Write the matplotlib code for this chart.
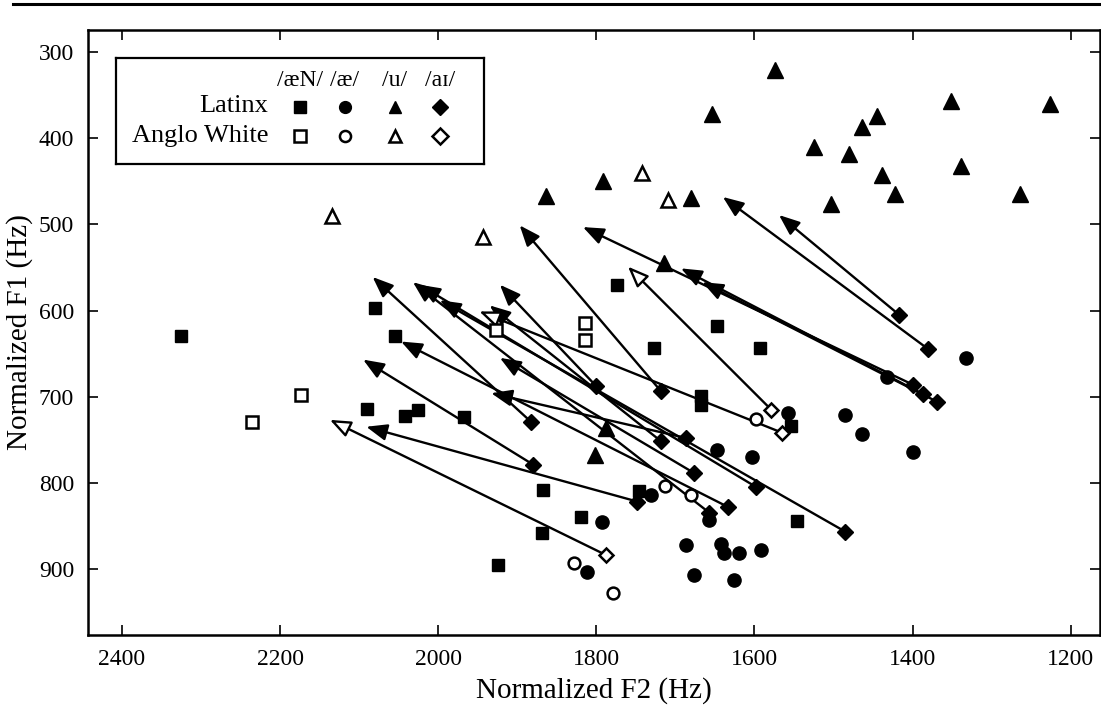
# F1/F2 vowel plot: /aeN/, /ae/, /u/ tokens and /ai/ trajectories (nucleus -> glide)

import numpy as np
import matplotlib.pyplot as plt
from matplotlib.lines import Line2D

plt.rcParams['font.family'] = ['Liberation Serif', 'DejaVu Serif']

# /aeN/
lat_aen_f2 = [2325, 2080, 2055, 2090, 2042, 2026, 1968, 1867, 1819, 1869, 1924, 1746, 1668, 1668, 1546, 1774, 1647, 1727, 1593, 1554]
lat_aen_f1 = [630, 597, 629, 714, 722, 715, 724, 808, 840, 858, 896, 810, 699, 710, 845, 570, 618, 643, 643, 734]
ang_aen_f2 = [2173, 2235, 1814, 1814, 1927]
ang_aen_f1 = [698, 730, 614, 634, 623]

# /ae/
lat_ae_f2 = [1332, 1433, 1558, 1485, 1464, 1400, 1592, 1731, 1647, 1603, 1793, 1657, 1687, 1642, 1638, 1619, 1677, 1626, 1812]
lat_ae_f1 = [655, 677, 719, 721, 743, 764, 878, 814, 762, 770, 846, 843, 873, 871, 882, 882, 907, 913, 904]
ang_ae_f2 = [1713, 1680, 1828, 1779, 1598]
ang_ae_f1 = [804, 814, 893, 928, 726]

# /u/
lat_u_f2 = [1574, 1654, 1445, 1464, 1525, 1481, 1352, 1226, 1339, 1439, 1422, 1503, 1264, 1791, 1864, 1680, 1715, 1788, 1802]
lat_u_f1 = [320, 372, 374, 387, 410, 418, 357, 360, 432, 443, 464, 476, 465, 449, 467, 469, 545, 737, 768]
ang_u_f2 = [1742, 1710, 1944, 2135]
ang_u_f1 = [440, 472, 515, 490]

# /ai/ nucleus and glide
lat_ai_nuc_f2 = [1380, 1417, 1387, 1369, 1718, 1400, 1800, 1598, 1485, 1718, 1676, 1687, 1883, 1657, 1634, 1880, 1748]
lat_ai_nuc_f1 = [645, 605, 697, 706, 694, 686, 688, 805, 857, 752, 789, 748, 729, 835, 828, 779, 822]
lat_ai_gl_f2 = [1640, 1569, 1693, 1666, 1897, 1817, 1922, 2024, 1998, 1935, 1922, 1933, 2083, 2032, 2047, 2095, 2091]
lat_ai_gl_f1 = [468, 489, 551, 567, 501, 503, 570, 570, 588, 594, 655, 696, 561, 567, 636, 657, 735]
ang_ai_nuc_f2 = [1579, 1565, 1788]
ang_ai_nuc_f1 = [715, 742, 884]
ang_ai_gl_f2 = [1760, 1948, 2137]
ang_ai_gl_f1 = [549, 601, 727]

fig = plt.figure(figsize=(11.01, 7.14), dpi=100)
ax = fig.add_axes([88/1101, 1 - 635/714, 1012/1101, 605/714])

head = "-|>,head_length=0.9,head_width=0.36"
for x0, y0, x1, y1 in zip(lat_ai_nuc_f2, lat_ai_nuc_f1, lat_ai_gl_f2, lat_ai_gl_f1):
    ax.annotate("", xy=(x1, y1), xytext=(x0, y0),
                arrowprops=dict(arrowstyle=head, color="black", lw=1.7,
                                shrinkA=0, shrinkB=0, mutation_scale=14), zorder=2)
for x0, y0, x1, y1 in zip(ang_ai_nuc_f2, ang_ai_nuc_f1, ang_ai_gl_f2, ang_ai_gl_f1):
    ax.annotate("", xy=(x1, y1), xytext=(x0, y0),
                arrowprops=dict(arrowstyle=head, fc="white", ec="black", lw=1.7,
                                shrinkA=0, shrinkB=0, mutation_scale=14), zorder=2)

ms = 9.5
kw_f = dict(linestyle="none", color="black", zorder=3)
kw_o = dict(linestyle="none", mfc="white", mec="black", mew=1.8, zorder=3)
ax.plot(lat_aen_f2, lat_aen_f1, marker="s", markersize=ms - 0.5, **kw_f)
ax.plot(ang_aen_f2, ang_aen_f1, marker="s", markersize=ms - 1.5, **kw_o)
ax.plot(lat_ae_f2, lat_ae_f1, marker="o", markersize=ms, **kw_f)
ax.plot(ang_ae_f2, ang_ae_f1, marker="o", markersize=ms - 1, **kw_o)
ax.plot(lat_u_f2, lat_u_f1, marker="^", markersize=ms + 2, **kw_f)
ax.plot(ang_u_f2, ang_u_f1, marker="^", markersize=ms + 1, **kw_o)
ax.plot(lat_ai_nuc_f2, lat_ai_nuc_f1, marker="D", markersize=ms - 1.5, **kw_f)
ax.plot(ang_ai_nuc_f2, ang_ai_nuc_f1, marker="D", markersize=ms - 2, **kw_o)

ax.set_xlim(2443, 1163)
ax.set_ylim(977, 274)
ax.set_xticks([2400, 2200, 2000, 1800, 1600, 1400, 1200])
ax.set_yticks([300, 400, 500, 600, 700, 800, 900])
ax.tick_params(direction="in", length=7, width=1.2, top=True, right=True,
               labelsize=17, pad=10)
for s in ax.spines.values():
    s.set_linewidth(1.8)
ax.set_xlabel("Normalized F2 (Hz)", fontsize=21, labelpad=5)
ax.set_ylabel("Normalized F1 (Hz)", fontsize=21, labelpad=4)

# legend box
lg = fig.add_axes([116/1101, 1 - 164/714, 368/1101, 106/714])
lg.set_xlim(116, 484)
lg.set_ylim(164, 58)
lg.set_xticks([])
lg.set_yticks([])
for s in lg.spines.values():
    s.set_linewidth(1.6)
cols = [300, 345, 395, 440]
heads = ["/æN/", "/æ/", "/u/", "/aɪ/"]
for cx, h in zip(cols, heads):
    lg.text(cx, 81, h, ha="center", va="center", fontsize=17)
lg.text(268, 106, "Latinx", ha="right", va="center", fontsize=19)
lg.text(268, 136, "Anglo White", ha="right", va="center", fontsize=19)
marks = ["s", "o", "^", "D"]
for cx, m in zip(cols, marks):
    lg.plot([cx], [107], marker=m, markersize=ms - 1, **kw_f)
    lg.plot([cx], [136], marker=m, markersize=ms - 1.5, **kw_o)

fig.add_artist(Line2D([0.012, 1], [1 - 4/714, 1 - 4/714], color="black", lw=2.2))

fig.savefig("out.png", dpi=100)
